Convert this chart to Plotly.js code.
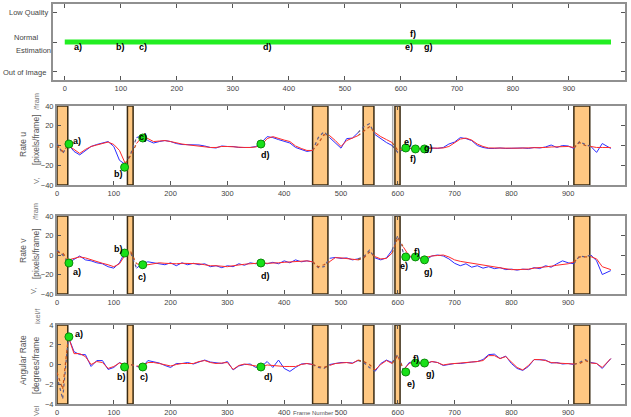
<!DOCTYPE html>
<html><head><meta charset="utf-8">
<script src="https://cdn.plot.ly/plotly-3.0.1.min.js"></script>
<style>html,body{margin:0;padding:0;background:#fff;overflow:hidden}#chart{width:631px;height:417px}</style>
</head><body><div id="chart"></div>
<script>
// ---------- DATA ----------
const frames = [0,10,20,30,40,50,60,70,80,90,
 100,110,120,130,140,150,160,170,180,190,
 200,210,220,230,240,250,260,270,280,290,
 300,310,320,330,340,350,360,370,380,390,
 400,410,420,430,440,450,460,470,480,490,
 500,510,520,530,540,550,560,570,580,590,
 600,610,620,630,640,650,660,670,680,690,
 700,710,720,730,740,750,760,770,780,790,
 800,810,820,830,840,850,860,870,880,890,
 900,910,920,930,940,950,960,975];

const uRed = [0,-6,0,-4,-8,-4,-1,0.5,2,3.5,
 1,-5,-18,-10,2,9,7,4,4.5,5,
 4,2.5,1.5,0.7,0,0,-1,-2,-2,-1,
 -1,-1.5,-2,-2,-2,-1.5,0.5,7,9,7,
 5.5,4,-0.5,-3,-5,-5,2,11,10,5,
 -1,5,7.5,10,15,19,13,9,6,3,
 -5,-3,-2.5,-3,-3,-2.7,-2.7,-2.7,-2.5,-1,
 2.5,6.5,7.5,5.5,1.5,-1,-2.5,-2.7,-2.7,-2.7,
 -2.7,-2.7,-2.7,-2.5,-2.5,-2,-2,-1.5,-1.5,-1,
 -1,-2,3,0,-1,-2,-2,-2];
const uBlue = [2,-8,1,-6,-9.5,-5,-1,1,2.5,4,
 -1,-15,-19,-8,8,10,5,2.5,4,5,
 4,2,1,1,0.5,0.5,-0.5,-2,-2.5,-0.5,
 -1,-1,-2,-2,-2,-1,3,9,8,6,
 4,2.5,-2,-4,-6,-5,8,14,8,3,
 -2.7,7,7.5,13,19,22,11,7,3,0,
 -7,-4,-3,-3.5,-3,-3,-2.5,-3,-2,1.5,
 3.5,8,7,5,0,-2,-3,-3,-2.5,-3,
 -2.7,-3,-2.5,-3,-2,-2.5,-1.5,0.5,-2,0,
 -0.5,-3,4,1,-1,-7,2,-3];

const vRed = [3,2,-5,-3.5,-2,-3,-5,-6.8,-8.5,-10,
 -12,-9,0,3,-9,-10,-10,-9,-8,-8.5,
 -9,-9,-8.5,-8.5,-9,-9,-10,-11,-11,-11.5,
 -12,-11,-10,-9.5,-9,-8.5,-8.2,-8.5,-8.5,-8,
 -7.5,-7,-6.8,-6,-6,-7,-12,-10,-6.8,-2.7,
 -3,-3.5,-4.5,-5,-3,3,-1.7,-4,-3.5,2,
 18,8,-1,-2,-3,-2.4,-1,-0.5,0,-2,
 -5,-6.5,-7.5,-8.5,-9.5,-10.5,-11.5,-12.5,-13.5,-14.5,
 -15,-15,-15,-14.5,-13.5,-13,-12,-11.5,-10.5,-10,
 -9,-7,-2,-2,-1.7,-4,-12,-15];
const vBlue = [5,0,-8,-4.5,-1,-5,-6,-8,-9,-12,
 -13.5,-8,3.4,2,-13.5,-9,-7,-8,-9,-10,
 -8,-11,-8,-10,-8.5,-10,-9,-12,-11,-13,
 -11,-12,-9,-10.5,-8,-9,-8,-9,-7.5,-9,
 -6,-8,-5,-7,-6,-7,-13,-12,-3.4,-2.5,
 -3.5,-3,-5,-4,-2,5,-3,-5,-3,5,
 20,2,-2,-2,-3.5,-5,-1,0,-1,-4,
 -8.5,-11,-9,-12.5,-11,-13.5,-12,-14,-13,-15,
 -14.5,-15.5,-14.5,-15,-13,-14,-11,-12.5,-9,-6,
 -8,-9,-1,-2,0,-6,-20,-16];

const angRed = [-0.8,-2.5,2.8,1.1,1.1,0.8,0,0.3,0.2,-0.4,
 -0.2,0.15,0,0,-0.15,-0.2,0.2,0.2,0.1,0,
 -0.15,0,0.1,0.1,0.1,0.3,0.4,0.2,0.1,0.15,
 0.2,-0.5,-0.1,0.05,-0.05,-0.2,-0.25,-0.05,-0.1,-0.2,
 -0.2,-0.2,-0.2,0,0.1,0,-0.2,-0.3,-0.1,0.1,
 0.15,0.2,0.1,0.45,0.3,0,-0.55,0,0.4,0.1,
 0.9,-0.5,0.1,0.3,0.1,0.1,0.3,0.2,-0.05,0.05,
 0.1,0.1,0.2,0.2,0.3,0.4,0.9,0.9,0.6,0.8,
 0.2,-0.3,-0.55,-0.1,0.5,0.5,0.4,0.2,0.15,0.1,
 0.05,0.05,0.1,0.4,0.15,0.1,-0.3,0.6];
const angBlue = [-1.2,-3.5,2.8,1.3,1.0,1.0,-0.2,0.4,0.4,-0.5,
 -0.3,0.2,-0.1,0,-0.2,-0.3,0.4,0.3,0.15,-0.1,
 -0.3,0.1,0.1,0.2,0.05,0.25,0.45,0.25,0.2,0.1,
 0.3,-0.55,-0.15,0,0.05,-0.3,-0.2,0.3,-0.3,0.45,
 -0.4,-0.7,-0.3,0.05,0.1,0,-0.3,-0.4,0,0.1,
 0.2,0.2,0.15,0.4,0.2,-0.3,-0.7,0.1,0.45,0.2,
 1.0,-0.6,0.2,0.3,0.1,0.1,0.3,0.2,-0.1,0,
 0.1,0.1,0.2,0.25,0.3,0.5,1.0,1.05,0.6,0.85,
 0.1,-0.4,-0.6,-0.2,0.5,0.5,0.45,0.15,0.2,0.05,
 0.1,0,0.2,0.5,0.2,0.1,-0.4,0.6];

const eventLabels = ['a)','b)','c)','d)','e)','f)','g)'];
const eventFrames = [21,119,151,359,614,631,647];
const eventU = [1.5,-22,7.6,1.5,-2.5,-3.5,-3.5];
const eventV = [-8.2,2,-10,-8.2,-2,-2,-5];
const eventAng = [2.8,-0.25,-0.25,-0.25,-0.76,0.15,0.15];
const topLabelFrames = [24,99,140,362,615,621,650];

const statusTicks = [0,1,2];
const statusLabels = ['Out of Image','Normal Estimation','Low Quality'];
const trackFrames = [0,975];
const trackStatus = [1,1];

const gapRanges = [[0,19],[124,134],[450,477],[539,558],[595,604],[910,938]];
const refFrame = 591;
const xTicks = [0,100,200,300,400,500,600,700,800,900,1000];
const rateTicks = [-40,-20,0,20,40];
const angTicks = [-4,-2,0,2,4];

// ---------- STYLE ----------
const W=631,H=417;
const px=v=>v/W, py=v=>1-v/H;
const RED='#ff2a2a', BLUE='#2d2dff';
const inGap = f => gapRanges.some(g=>f>g[0]&&f<g[1]);
function solid(ys){return ys.map((y,i)=>inGap(frames[i])?null:y);}
function dotted(ys){return ys.map((y,i)=>{
  const near = inGap(frames[i]) || (i>0&&inGap(frames[i-1])) || (i<frames.length-1&&inGap(frames[i+1]));
  return near?y:null;});}

const traces=[];
function panel(n, red, blue, evY){
  const xa='x'+n, ya='y'+n;
  traces.push({x:frames,y:solid(blue),xaxis:xa,yaxis:ya,mode:'lines',line:{color:BLUE,width:1},hoverinfo:'skip'});
  traces.push({x:frames,y:dotted(blue),xaxis:xa,yaxis:ya,mode:'lines',line:{color:'#5a5a8a',width:1.2,dash:'dot'},hoverinfo:'skip'});
  traces.push({x:frames,y:solid(red),xaxis:xa,yaxis:ya,mode:'lines',line:{color:RED,width:1},hoverinfo:'skip'});
  traces.push({x:frames,y:dotted(red),xaxis:xa,yaxis:ya,mode:'lines',line:{color:'#c0501c',width:1.2,dash:'dot'},hoverinfo:'skip'});
  traces.push({x:eventFrames,y:evY,xaxis:xa,yaxis:ya,mode:'markers',marker:{color:'#18e018',size:8,line:{color:'#0a8a0a',width:1}},hoverinfo:'skip'});
}
traces.push({x:trackFrames,y:trackStatus,xaxis:'x',yaxis:'y',mode:'lines',line:{color:'#22ee22',width:5},hoverinfo:'skip'});
panel(2,uRed,uBlue,eventU);
panel(3,vRed,vBlue,eventV);
panel(4,angRed,angBlue,eventAng);

const tickFont={family:'Liberation Sans, Arial, sans-serif',size:7.5,color:'#444'};
const axBase={showline:true,linecolor:'#909090',linewidth:2,mirror:'ticks',ticks:'inside',ticklen:4,tickcolor:'#555',tickwidth:1,showgrid:false,zeroline:false,tickfont:tickFont,fixedrange:true};
const xAx=(dom,rng,anchor)=>Object.assign({},axBase,{domain:dom,range:rng,anchor:anchor,tickvals:xTicks,ticklabelstandoff:0});
const yAx=(dom,rng,anchor,tv)=>Object.assign({},axBase,{domain:dom,range:rng,anchor:anchor,tickvals:tv});

const shapes=[];
[2,3,4].forEach(n=>{
  gapRanges.forEach(g=>shapes.push({type:'rect',xref:'x'+n,yref:'y'+n+' domain',x0:g[0],x1:g[1],y0:0,y1:1,fillcolor:'#ffc882',line:{color:'#3a2a12',width:1.5},layer:'below'}));
  shapes.push({type:'line',xref:'x'+n,yref:'y'+n+' domain',x0:refFrame,x1:refFrame,y0:0,y1:1,line:{color:'#b0b0b0',width:1.5},layer:'below'});
});

const ann=[];
const lblFont={family:'Liberation Sans, Arial, sans-serif',size:9,color:'#000',weight:'bold'};
const topShift=[-4.5,-4.5,-4.5,-4.5,-4.5,8.5,-4.5];
eventLabels.forEach((t,i)=>ann.push({xref:'x',yref:'y',x:topLabelFrames[i],y:trackStatus[0],text:'<b>'+t+'</b>',showarrow:false,xanchor:'center',yanchor:'middle',yshift:topShift[i],font:lblFont}));
const uOff=[[8,3],[-6.5,-6.5],[0,1.5],[5,-10.5],[2,5.5],[-2.5,-10.5],[3.5,1]];
const vOff=[[8,-9],[-6.5,4],[-1,-12],[5,-13],[-1.5,-9.5],[1.5,5],[3.5,-12]];
const aOff=[[10.5,2.5],[-3.5,-10.5],[1,-10.5],[8,-10.5],[5.5,-12],[0.5,4],[5.5,-11]];
function evAnn(n,ys,off){eventLabels.forEach((t,i)=>ann.push({xref:'x'+n,yref:'y'+n,x:eventFrames[i],y:ys[i],text:'<b>'+t+'</b>',showarrow:false,xanchor:'center',yanchor:'middle',xshift:off[i][0],yshift:off[i][1],font:lblFont}));}
evAnn(2,eventU,uOff);evAnn(3,eventV,vOff);evAnn(4,eventAng,aOff);

const sideFont={family:'Liberation Sans, Arial, sans-serif',size:7.5,color:'#444'};
function pann(text,x,y,opts){ann.push(Object.assign({xref:'paper',yref:'paper',x:px(x),y:py(y),text:text,showarrow:false,xanchor:'center',yanchor:'middle',font:sideFont},opts||{}));}
// status tick labels (top panel)
pann(statusLabels[2],50,12,{xanchor:'right'});
pann('Normal',26,38);
pann('Estimation',33.5,50);
pann(statusLabels[0],48,72,{xanchor:'right'});
// y titles
const tFont={family:'Liberation Sans, Arial, sans-serif',size:8.5,color:'#555'};
const fFont={family:'Liberation Sans, Arial, sans-serif',size:7.5,color:'#777'};
pann('Rate u',23,145,{textangle:-90,font:tFont});
pann('[pixels/frame]',36,140,{textangle:-90,font:tFont});
pann('/fram',36,102,{textangle:-90,font:fFont});
pann('V,',36,181,{textangle:-90,font:fFont});
pann('Rate v',23,251,{textangle:-90,font:tFont});
pann('[pixels/frame]',36,254,{textangle:-90,font:tFont});
pann('/fram',36,212,{textangle:-90,font:fFont});
pann('V,',33,291,{textangle:-90,font:fFont});
pann('Angular Rate',23,360,{textangle:-90,font:tFont});
pann('[degrees/frame',36,366,{textangle:-90,font:tFont});
pann('ixel/f',37,316,{textangle:-90,font:fFont});
pann('Vel',36,411,{textangle:-90,font:fFont});
pann('Frame Number',313,412.5,{font:{family:'Liberation Sans, Arial, sans-serif',size:6,color:'#555'}});

const layout={width:W,height:H,margin:{l:0,r:0,t:0,b:0},paper_bgcolor:'#fff',plot_bgcolor:'#fff',showlegend:false,
 xaxis:xAx([px(53),px(625)],[-21,1000],'y'),
 yaxis:Object.assign(yAx([py(80),py(4)],[-0.27,2.27],'x',statusTicks),{showticklabels:false}),
 xaxis2:xAx([px(57),px(625)],[0,1000],'y2'),
 yaxis2:yAx([py(185),py(106)],[-40,40],'x2',rateTicks),
 xaxis3:xAx([px(57),px(625)],[0,1000],'y3'),
 yaxis3:yAx([py(294),py(216)],[-40,40],'x3',rateTicks),
 xaxis4:xAx([px(57),px(625)],[0,1000],'y4'),
 yaxis4:yAx([py(404),py(325)],[-4,4],'x4',angTicks),
 shapes:shapes,annotations:ann};
Plotly.newPlot('chart',traces,layout,{staticPlot:true,displayModeBar:false});
</script></body></html>
